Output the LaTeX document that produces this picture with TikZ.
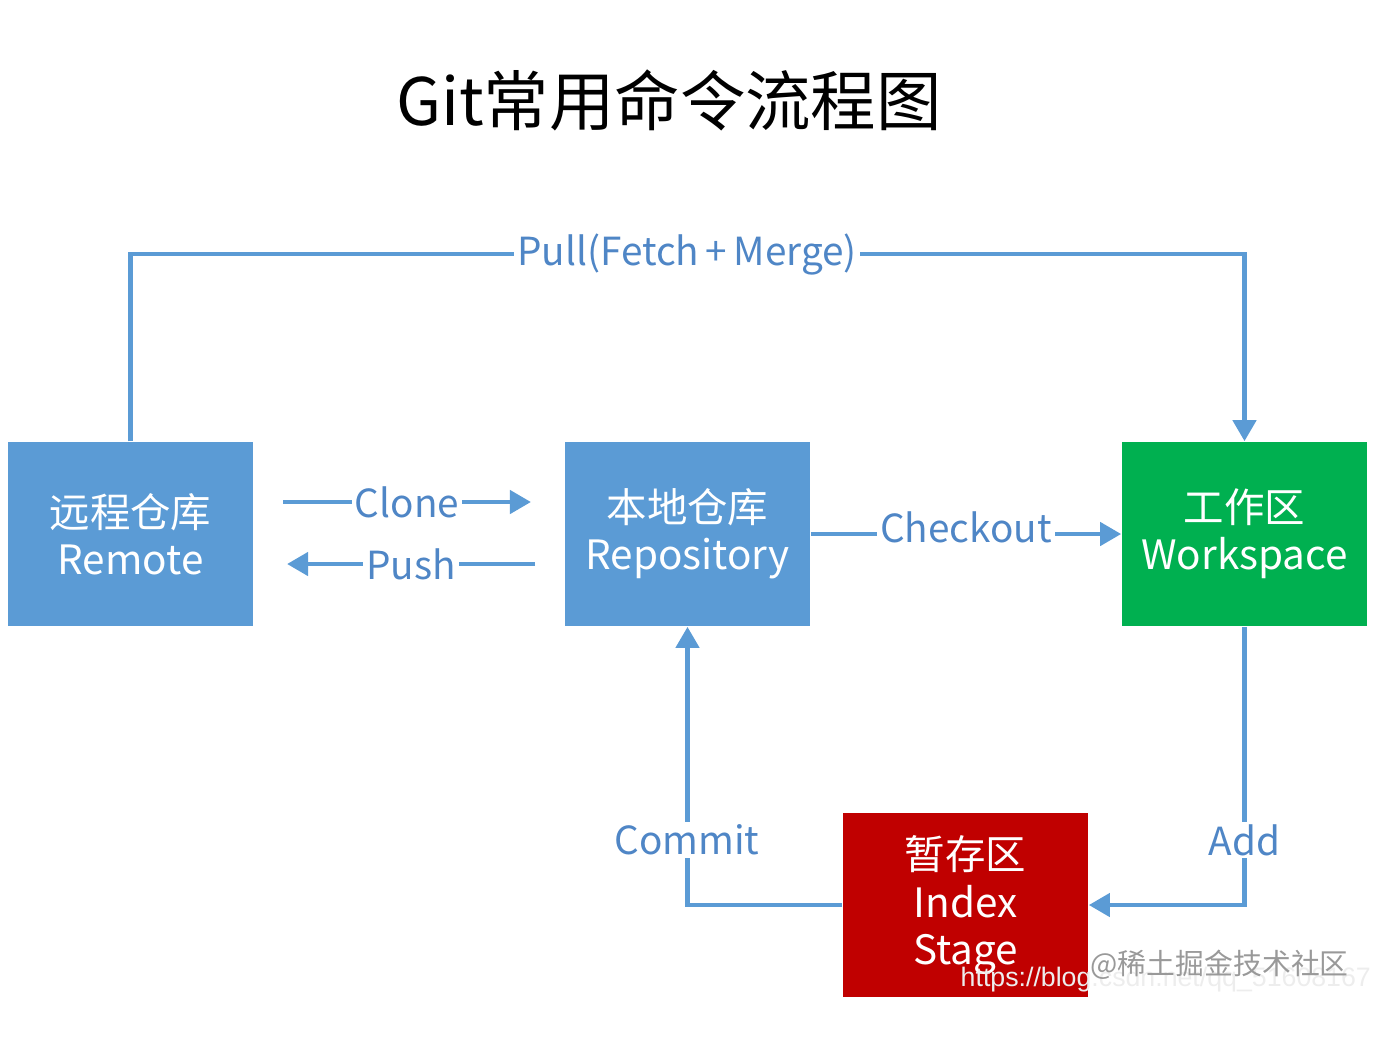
\documentclass[tikz,border=0pt]{standalone}
\usepackage{fontspec}
\setmainfont{Noto Sans CJK SC}
\newfontfamily\urlfont{Liberation Sans}
\usetikzlibrary{arrows.meta}
\definecolor{boxblue}{HTML}{5B9BD5}
\definecolor{boxgreen}{HTML}{00B050}
\definecolor{boxred}{HTML}{C00000}
\definecolor{textblue}{HTML}{4F86C6}

\begin{document}
\begin{tikzpicture}[x=0.01cm,y=-0.01cm,
  area/.style={text=white,minimum width=2.45cm,minimum height=1.84cm,align=center,inner sep=0pt,font=\fontsize{11.5}{13.4}\selectfont},
  flow/.style={draw=boxblue,line width=1.4pt,-{Triangle[length=6pt,width=6.5pt]}},
  lbl/.style={fill=white,text=textblue,inner sep=0.8pt,font=\fontsize{11}{13}\selectfont}]
\useasboundingbox (0,0) rectangle (1400,1044);

\node (title) at (669,100) {\fontsize{18.6}{22}\selectfont Git常用命令流程图};

\node[area,fill=boxblue] (remote) at (130.5,534) {远程仓库\\Remote};
\node[area,fill=boxblue] (repo) at (687.5,534) {本地仓库\\Repository};
\node[area,fill=boxgreen] (work) at (1244.5,534) {工作区\\Workspace};
\node[area,fill=boxred] (stage) at (965.5,905) {暂存区\\Index\\Stage};

\coordinate (pullmid) at (687,254);
\coordinate (cloneS) at (283,502);
\coordinate (cloneE) at (531,502);
\coordinate (pushS) at (535,564);
\coordinate (pushE) at (287,564);

\draw[flow] (remote.north) |- (pullmid) -| (work.north);
\node[lbl] (pull) at (pullmid) {Pull(Fetch\,+\,Merge)};
\draw[flow] (cloneS) -- node[lbl] (clone) {Clone} (cloneE);
\draw[flow] (pushS) -- node[lbl] (push) {Push} (pushE);
\draw[flow] (repo.east) -- node[lbl,yshift=2pt] (checkout) {Checkout} (work.west);
\draw[flow] (stage.west) -| (repo.south);
\node[lbl] (commit) at (687,840) {Commit};
\draw[flow] (work.south) |- (stage.east);
\node[lbl] (add) at (1244.5,840) {Add};

\node[anchor=west,inner sep=0pt,text=white!86!gray,font=\urlfont\fontsize{7.6}{9}\selectfont] (url) at (960,980) {https://blog.csdn.net/qq\_51608167};
\node[anchor=west,inner sep=0pt,text=gray!80,font=\fontsize{8.2}{10}\selectfont] (mark) at (1090,965) {@稀土掘金技术社区};
\end{tikzpicture}
\end{document}
